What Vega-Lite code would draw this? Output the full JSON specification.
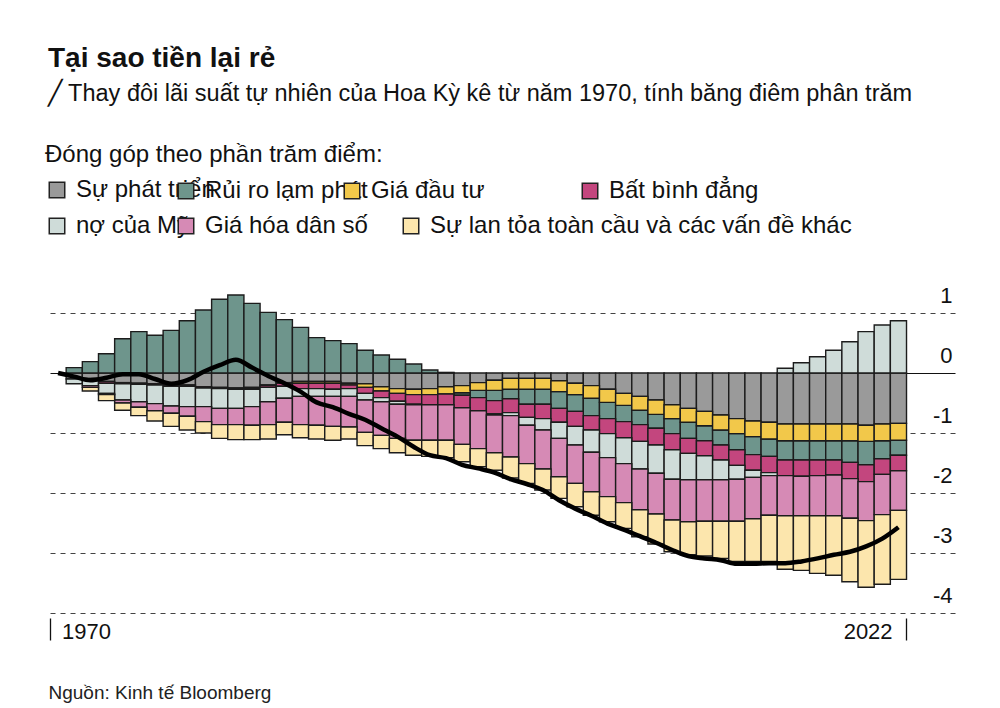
{
  "$schema": "https://vega.github.io/schema/vega-lite/v6.json",
  "width": 905,
  "height": 321,
  "autosize": {"type": "none"},
  "padding": {"left": 50, "top": 292, "right": 45, "bottom": 95},
  "background": "white",
  "config": {
    "font": "Liberation Sans",
    "view": {"stroke": null},
    "legend": {
      "orient": "none",
      "direction": "horizontal",
      "title": null,
      "labelFontSize": 24,
      "labelColor": "#111",
      "labelLimit": 600,
      "labelOffset": 7,
      "symbolType": "square",
      "symbolSize": 240,
      "symbolStrokeColor": "#222",
      "symbolStrokeWidth": 1.5,
      "symbolOpacity": 1
    }
  },
  "title": {
    "text": "Tại sao tiền lại rẻ",
    "subtitle": "╱ Thay đôi lãi suất tự nhiên của Hoa Kỳ kê từ năm 1970, tính băng điêm phân trăm",
    "anchor": "start",
    "frame": "group",
    "offset": 38,
    "dx": -2,
    "fontSize": 28,
    "fontWeight": "bold",
    "color": "#111",
    "subtitleFontSize": 23.5,
    "subtitleColor": "#111",
    "subtitlePadding": 9
  },
  "data": {
    "values": [
      {"year": 1970, "g": 0, "i": 0, "p": 0, "q": 0, "d": 0, "a": 0, "o": 0, "n": 0},
      {"year": 1971, "g": -0.1, "i": 0.09, "p": 0, "q": 0, "d": -0.08, "a": 0, "o": 0, "n": -0.06},
      {"year": 1972, "g": -0.09, "i": 0.19, "p": 0, "q": -0.02, "d": -0.1, "a": -0.03, "o": -0.06, "n": -0.12},
      {"year": 1973, "g": -0.14, "i": 0.32, "p": 0, "q": -0.03, "d": -0.17, "a": -0.02, "o": -0.1, "n": -0.08},
      {"year": 1974, "g": -0.16, "i": 0.57, "p": 0, "q": -0.02, "d": -0.27, "a": -0.05, "o": -0.12, "n": -0.02},
      {"year": 1975, "g": -0.17, "i": 0.69, "p": 0, "q": -0.02, "d": -0.29, "a": -0.09, "o": -0.14, "n": -0.02},
      {"year": 1976, "g": -0.18, "i": 0.63, "p": 0, "q": -0.02, "d": -0.31, "a": -0.12, "o": -0.17, "n": -0.1},
      {"year": 1977, "g": -0.2, "i": 0.71, "p": 0, "q": -0.02, "d": -0.33, "a": -0.12, "o": -0.22, "n": -0.18},
      {"year": 1978, "g": -0.2, "i": 0.87, "p": 0, "q": -0.02, "d": -0.34, "a": -0.16, "o": -0.23, "n": -0.12},
      {"year": 1979, "g": -0.23, "i": 1.05, "p": 0, "q": -0.02, "d": -0.31, "a": -0.25, "o": -0.19, "n": 0.02},
      {"year": 1980, "g": -0.24, "i": 1.23, "p": 0, "q": -0.02, "d": -0.33, "a": -0.27, "o": -0.23, "n": 0.13},
      {"year": 1981, "g": -0.25, "i": 1.3, "p": 0, "q": -0.02, "d": -0.32, "a": -0.27, "o": -0.25, "n": 0.22},
      {"year": 1982, "g": -0.24, "i": 1.16, "p": -0.01, "q": -0.02, "d": -0.29, "a": -0.31, "o": -0.24, "n": 0.09},
      {"year": 1983, "g": -0.2, "i": 1.01, "p": -0.01, "q": -0.03, "d": -0.24, "a": -0.38, "o": -0.24, "n": -0.05},
      {"year": 1984, "g": -0.16, "i": 0.89, "p": -0.01, "q": -0.05, "d": -0.2, "a": -0.4, "o": -0.21, "n": -0.17},
      {"year": 1985, "g": -0.14, "i": 0.76, "p": -0.03, "q": -0.09, "d": -0.13, "a": -0.47, "o": -0.22, "n": -0.31},
      {"year": 1986, "g": -0.14, "i": 0.59, "p": -0.03, "q": -0.09, "d": -0.13, "a": -0.48, "o": -0.23, "n": -0.49},
      {"year": 1987, "g": -0.14, "i": 0.54, "p": -0.03, "q": -0.1, "d": -0.12, "a": -0.5, "o": -0.23, "n": -0.57},
      {"year": 1988, "g": -0.17, "i": 0.49, "p": -0.03, "q": -0.06, "d": -0.13, "a": -0.51, "o": -0.2, "n": -0.68},
      {"year": 1989, "g": -0.18, "i": 0.38, "p": -0.06, "q": -0.1, "d": -0.11, "a": -0.54, "o": -0.22, "n": -0.78},
      {"year": 1990, "g": -0.23, "i": 0.3, "p": -0.07, "q": -0.11, "d": -0.07, "a": -0.56, "o": -0.22, "n": -0.92},
      {"year": 1991, "g": -0.26, "i": 0.23, "p": -0.08, "q": -0.13, "d": -0.05, "a": -0.57, "o": -0.24, "n": -1.06},
      {"year": 1992, "g": -0.27, "i": 0.15, "p": -0.09, "q": -0.16, "d": -0.01, "a": -0.59, "o": -0.25, "n": -1.23},
      {"year": 1993, "g": -0.26, "i": 0.05, "p": -0.1, "q": -0.17, "d": 0, "a": -0.59, "o": -0.27, "n": -1.37},
      {"year": 1994, "g": -0.23, "i": 0.01, "p": -0.12, "q": -0.18, "d": 0, "a": -0.59, "o": -0.29, "n": -1.42},
      {"year": 1995, "g": -0.21, "i": -0.04, "p": -0.12, "q": -0.21, "d": 0, "a": -0.61, "o": -0.29, "n": -1.53},
      {"year": 1996, "g": -0.16, "i": -0.12, "p": -0.13, "q": -0.22, "d": 0, "a": -0.63, "o": -0.3, "n": -1.59},
      {"year": 1997, "g": -0.12, "i": -0.17, "p": -0.17, "q": -0.22, "d": -0.02, "a": -0.63, "o": -0.29, "n": -1.66},
      {"year": 1998, "g": -0.09, "i": -0.16, "p": -0.18, "q": -0.23, "d": -0.05, "a": -0.69, "o": -0.35, "n": -1.77},
      {"year": 1999, "g": -0.09, "i": -0.25, "p": -0.18, "q": -0.22, "d": -0.13, "a": -0.64, "o": -0.33, "n": -1.85},
      {"year": 2000, "g": -0.09, "i": -0.25, "p": -0.18, "q": -0.24, "d": -0.19, "a": -0.65, "o": -0.35, "n": -1.95},
      {"year": 2001, "g": -0.13, "i": -0.28, "p": -0.18, "q": -0.23, "d": -0.27, "a": -0.64, "o": -0.36, "n": -2.12},
      {"year": 2002, "g": -0.17, "i": -0.28, "p": -0.19, "q": -0.25, "d": -0.31, "a": -0.64, "o": -0.39, "n": -2.26},
      {"year": 2003, "g": -0.21, "i": -0.29, "p": -0.21, "q": -0.24, "d": -0.37, "a": -0.66, "o": -0.39, "n": -2.38},
      {"year": 2004, "g": -0.27, "i": -0.27, "p": -0.22, "q": -0.25, "d": -0.4, "a": -0.65, "o": -0.42, "n": -2.51},
      {"year": 2005, "g": -0.34, "i": -0.27, "p": -0.2, "q": -0.27, "d": -0.43, "a": -0.65, "o": -0.43, "n": -2.61},
      {"year": 2006, "g": -0.39, "i": -0.24, "p": -0.23, "q": -0.28, "d": -0.46, "a": -0.68, "o": -0.45, "n": -2.72},
      {"year": 2007, "g": -0.45, "i": -0.23, "p": -0.24, "q": -0.28, "d": -0.47, "a": -0.68, "o": -0.5, "n": -2.83},
      {"year": 2008, "g": -0.53, "i": -0.25, "p": -0.23, "q": -0.27, "d": -0.49, "a": -0.68, "o": -0.53, "n": -2.95},
      {"year": 2009, "g": -0.59, "i": -0.27, "p": -0.23, "q": -0.25, "d": -0.44, "a": -0.7, "o": -0.55, "n": -3.05},
      {"year": 2010, "g": -0.64, "i": -0.25, "p": -0.24, "q": -0.25, "d": -0.4, "a": -0.69, "o": -0.58, "n": -3.09},
      {"year": 2011, "g": -0.7, "i": -0.25, "p": -0.25, "q": -0.25, "d": -0.33, "a": -0.69, "o": -0.62, "n": -3.12},
      {"year": 2012, "g": -0.76, "i": -0.27, "p": -0.25, "q": -0.26, "d": -0.23, "a": -0.7, "o": -0.67, "n": -3.18},
      {"year": 2013, "g": -0.8, "i": -0.3, "p": -0.26, "q": -0.26, "d": -0.12, "a": -0.69, "o": -0.71, "n": -3.18},
      {"year": 2014, "g": -0.82, "i": -0.29, "p": -0.28, "q": -0.27, "d": -0.05, "a": -0.66, "o": -0.77, "n": -3.17},
      {"year": 2015, "g": -0.85, "i": -0.32, "p": -0.28, "q": -0.26, "d": 0.08, "a": -0.67, "o": -0.89, "n": -3.17},
      {"year": 2016, "g": -0.85, "i": -0.32, "p": -0.28, "q": -0.27, "d": 0.17, "a": -0.66, "o": -0.91, "n": -3.14},
      {"year": 2017, "g": -0.85, "i": -0.32, "p": -0.28, "q": -0.26, "d": 0.27, "a": -0.67, "o": -0.96, "n": -3.09},
      {"year": 2018, "g": -0.85, "i": -0.32, "p": -0.28, "q": -0.25, "d": 0.38, "a": -0.68, "o": -0.99, "n": -3.03},
      {"year": 2019, "g": -0.85, "i": -0.36, "p": -0.28, "q": -0.27, "d": 0.52, "a": -0.66, "o": -1.06, "n": -2.98},
      {"year": 2020, "g": -0.87, "i": -0.39, "p": -0.27, "q": -0.28, "d": 0.69, "a": -0.65, "o": -1.11, "n": -2.89},
      {"year": 2021, "g": -0.85, "i": -0.3, "p": -0.28, "q": -0.26, "d": 0.8, "a": -0.67, "o": -1.16, "n": -2.76},
      {"year": 2022, "g": -0.84, "i": -0.25, "p": -0.28, "q": -0.26, "d": 0.87, "a": -0.66, "o": -1.15, "n": -2.57}
    ]
  },
  "transform": [
    {"fold": ["g", "i", "p", "q", "d", "a", "o"], "as": ["k", "v"]},
    {"calculate": "indexof(['g','p','i','q','d','a','o'], datum.k)", "as": "s"},
    {"stack": "v", "groupby": ["year"], "sort": [{"field": "s", "order": "ascending"}], "as": ["v0", "v1"], "offset": "zero"}
  ],
  "resolve": {"scale": {"color": "independent"}, "legend": {"color": "independent"}},
  "layer": [
    {
      "transform": [{"filter": "datum.k == 'g' && datum.v != 0"}],
      "mark": {"type": "bar", "stroke": "#1c1c1c", "strokeWidth": 1.4},
      "encoding": {
        "x": {
          "field": "year",
          "type": "ordinal",
          "scale": {
            "domain": [1970, 1971, 1972, 1973, 1974, 1975, 1976, 1977, 1978, 1979, 1980, 1981, 1982, 1983, 1984, 1985, 1986, 1987, 1988, 1989, 1990, 1991, 1992, 1993, 1994, 1995, 1996, 1997, 1998, 1999, 2000, 2001, 2002, 2003, 2004, 2005, 2006, 2007, 2008, 2009, 2010, 2011, 2012, 2013, 2014, 2015, 2016, 2017, 2018, 2019, 2020, 2021, 2022, 2023, 2024, 2025],
            "paddingInner": 0,
            "paddingOuter": 0
          },
          "axis": {
            "values": [1970, 2023],
            "bandPosition": 0,
            "domain": false,
            "grid": false,
            "ticks": true,
            "tickSize": 22,
            "tickColor": "#111",
            "tickWidth": 1.3,
            "offset": 5,
            "labelAngle": 0,
            "labelExpr": "datum.value == 2023 ? '2022' : '1970'",
            "labelAlign": {"condition": {"test": "datum.value == 1970", "value": "left"}, "value": "right"},
            "labelOffset": {"condition": {"test": "datum.value == 1970", "value": 4}, "value": -22},
            "labelBaseline": "top",
            "labelPadding": -19,
            "labelFontSize": 22,
            "labelColor": "#111",
            "title": "Nguồn: Kinh tế Bloomberg",
            "titleX": -2,
            "titleY": 80,
            "titleAnchor": "start",
            "titleAlign": "left",
            "titleBaseline": "alphabetic",
            "titleFontSize": 19,
            "titleFontWeight": "normal",
            "titleColor": "#222"
          }
        },
        "y": {
          "field": "v0",
          "type": "quantitative",
          "scale": {"domain": [-4, 1.35], "nice": false, "zero": false},
          "axis": {
            "orient": "right",
            "values": [1, 0, -1, -2, -3, -4],
            "domain": false,
            "ticks": false,
            "labelAlign": "right",
            "labelPadding": -3,
            "labelBaseline": "alphabetic",
            "labelOffset": -11,
            "labelFontSize": 22,
            "labelColor": "#111",
            "labelExpr": "'' + datum.value",
            "grid": true,
            "gridColor": {"condition": {"test": "datum.value === 0", "value": "#111"}, "value": "#444"},
            "gridDash": {"condition": {"test": "datum.value === 0", "value": []}, "value": [5, 5]},
            "gridWidth": 1.2,
            "title": null
          }
        },
        "y2": {"field": "v1"},
        "color": {
          "field": "k",
          "type": "nominal",
          "scale": {"domain": ["g"], "range": ["#9a9a9a"]},
          "legend": {
            "legendX": -5,
            "legendY": -149,
            "title": "Đóng góp theo phần trăm điểm:",
            "titleFontSize": 24,
            "titleFontWeight": "normal",
            "titleColor": "#111",
            "titleLimit": 800,
            "titlePadding": 11,
            "labelExpr": "'Sự phát triển'"
          }
        }
      }
    },
    {
      "transform": [{"filter": "datum.k == 'i' && datum.v != 0"}],
      "mark": {"type": "bar", "stroke": "#1c1c1c", "strokeWidth": 1.4},
      "encoding": {
        "x": {"field": "year", "type": "ordinal"},
        "y": {"field": "v0", "type": "quantitative"},
        "y2": {"field": "v1"},
        "color": {
          "field": "k",
          "type": "nominal",
          "scale": {"domain": ["i"], "range": ["#6e958c"]},
          "legend": {"legendX": 124, "legendY": -113, "labelExpr": "'Rủi ro lạm phát'"}
        }
      }
    },
    {
      "transform": [{"filter": "datum.k == 'p' && datum.v != 0"}],
      "mark": {"type": "bar", "stroke": "#1c1c1c", "strokeWidth": 1.4},
      "encoding": {
        "x": {"field": "year", "type": "ordinal"},
        "y": {"field": "v0", "type": "quantitative"},
        "y2": {"field": "v1"},
        "color": {
          "field": "k",
          "type": "nominal",
          "scale": {"domain": ["p"], "range": ["#f2c84a"]},
          "legend": {"legendX": 290, "legendY": -113, "labelExpr": "'Giá đầu tư'"}
        }
      }
    },
    {
      "transform": [{"filter": "datum.k == 'q' && datum.v != 0"}],
      "mark": {"type": "bar", "stroke": "#1c1c1c", "strokeWidth": 1.4},
      "encoding": {
        "x": {"field": "year", "type": "ordinal"},
        "y": {"field": "v0", "type": "quantitative"},
        "y2": {"field": "v1"},
        "color": {
          "field": "k",
          "type": "nominal",
          "scale": {"domain": ["q"], "range": ["#c3467e"]},
          "legend": {"legendX": 528, "legendY": -113, "labelExpr": "'Bất bình đẳng'"}
        }
      }
    },
    {
      "transform": [{"filter": "datum.k == 'd' && datum.v != 0"}],
      "mark": {"type": "bar", "stroke": "#1c1c1c", "strokeWidth": 1.4},
      "encoding": {
        "x": {"field": "year", "type": "ordinal"},
        "y": {"field": "v0", "type": "quantitative"},
        "y2": {"field": "v1"},
        "color": {
          "field": "k",
          "type": "nominal",
          "scale": {"domain": ["d"], "range": ["#cfdcd9"]},
          "legend": {"legendX": -5, "legendY": -78, "labelExpr": "'nợ của Mỹ'"}
        }
      }
    },
    {
      "transform": [{"filter": "datum.k == 'a' && datum.v != 0"}],
      "mark": {"type": "bar", "stroke": "#1c1c1c", "strokeWidth": 1.4},
      "encoding": {
        "x": {"field": "year", "type": "ordinal"},
        "y": {"field": "v0", "type": "quantitative"},
        "y2": {"field": "v1"},
        "color": {
          "field": "k",
          "type": "nominal",
          "scale": {"domain": ["a"], "range": ["#d68ab5"]},
          "legend": {"legendX": 124, "legendY": -78, "labelExpr": "'Giá hóa dân số'"}
        }
      }
    },
    {
      "transform": [{"filter": "datum.k == 'o' && datum.v != 0"}],
      "mark": {"type": "bar", "stroke": "#1c1c1c", "strokeWidth": 1.4},
      "encoding": {
        "x": {"field": "year", "type": "ordinal"},
        "y": {"field": "v0", "type": "quantitative"},
        "y2": {"field": "v1"},
        "color": {
          "field": "k",
          "type": "nominal",
          "scale": {"domain": ["o"], "range": ["#fce6ad"]},
          "legend": {"legendX": 349, "legendY": -78, "labelExpr": "'Sự lan tỏa toàn cầu và các vấn đề khác'"}
        }
      }
    },
    {
      "transform": [{"filter": "datum.k == 'g'"}],
      "mark": {"type": "line", "color": "#000", "strokeWidth": 4.5, "interpolate": "monotone"},
      "encoding": {
        "x": {"field": "year", "type": "ordinal"},
        "y": {"field": "n", "type": "quantitative"}
      }
    }
  ]
}
